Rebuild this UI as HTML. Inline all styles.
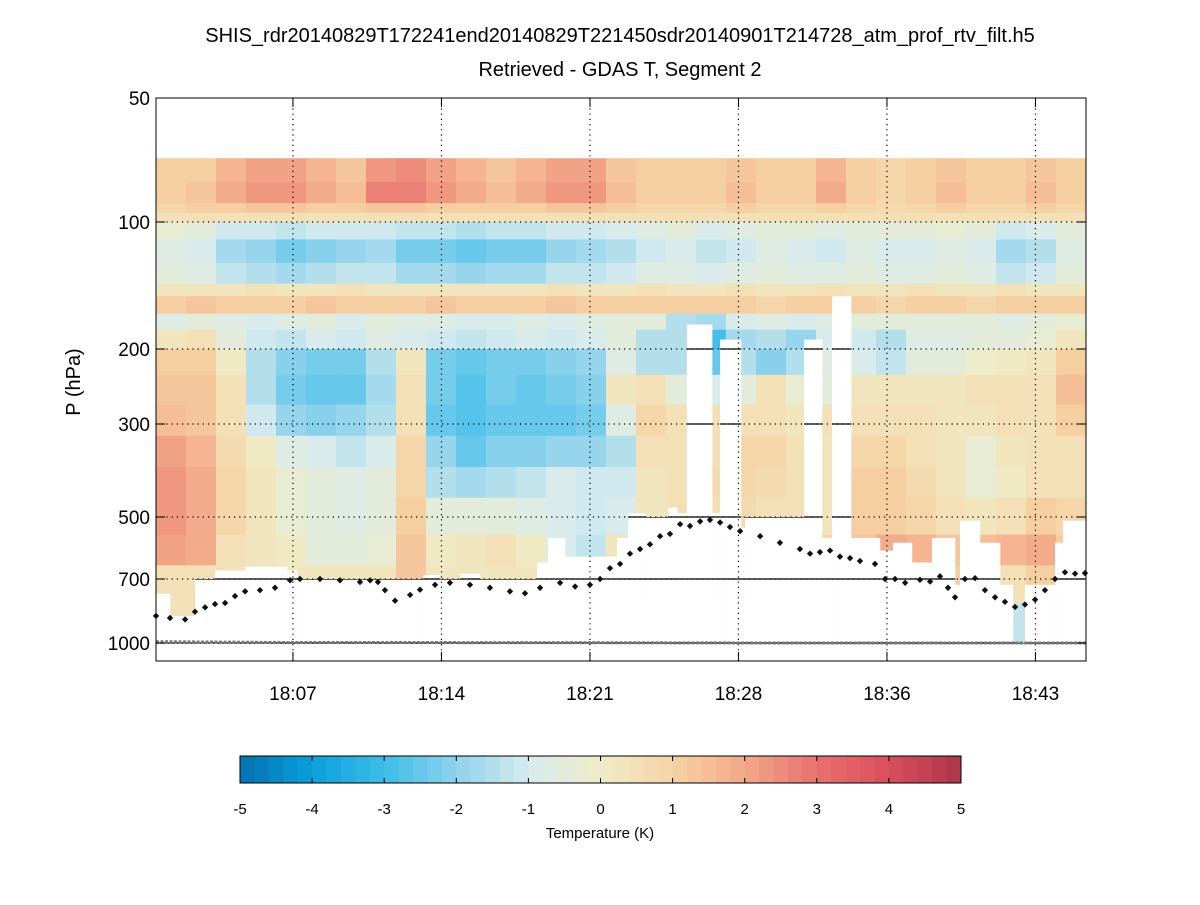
<!DOCTYPE html>
<html><head><meta charset="utf-8"><style>
body{margin:0;background:#fff;}
svg text{font-family:"Liberation Sans",sans-serif;fill:#000;}
</style></head><body>
<svg id="chart" width="1200" height="900" xmlns="http://www.w3.org/2000/svg">
<text x="620" y="42" font-size="20" text-anchor="middle">SHIS_rdr20140829T172241end20140829T221450sdr20140901T214728_atm_prof_rtv_filt.h5</text>
<text x="620" y="76" font-size="20" text-anchor="middle">Retrieved - GDAS T, Segment 2</text>
<text transform="translate(80,382) rotate(-90)" font-size="20" text-anchor="middle">P (hPa)</text>
<g id="heat"></g>
<g id="mask"></g>
<g id="grid"></g>
<g id="series"></g>
<g id="axes"></g>
<g id="cbar"></g>
</svg>
<script>
// ---- data ----
const xTicks=[7.2,14.4,21.6,28.8,36.0,43.2];
const xTickLabels=["18:07","18:14","18:21","18:28","18:36","18:43"];
const yTicks=[50,100,200,300,500,700,1000];
const yTickLabels=["50","100","200","300","500","700","1000"];
const rowEdges=[70,80,90,95,100,110,125,140,150,165,180,200,230,270,320,380,450,550,650,800,1000];
const nCols=31;
const tempDiff=[
[1.1,1.2,1.6,2.1,2.1,1.6,1.4,2.3,2.5,2.0,1.6,1.4,1.6,2.1,2.1,1.4,1.1,1.0,1.1,1.4,1.0,1.1,1.6,1.0,0.8,1.0,1.4,1.0,1.1,1.4,1.1],
[1.2,1.4,1.8,2.4,2.2,1.8,1.5,2.6,2.7,2.2,1.8,1.5,1.8,2.4,2.2,1.5,1.2,1.0,1.2,1.5,1.0,1.2,1.8,1.0,0.9,1.0,1.5,1.0,1.2,1.5,1.2],
[0.9,1.0,1.1,1.3,1.3,1.1,1.0,1.3,1.4,1.2,1.1,1.0,1.1,1.3,1.3,1.0,0.9,0.8,0.9,1.0,0.8,0.9,1.1,0.8,0.7,0.8,1.0,0.8,0.9,1.0,0.9],
[0.4,0.4,0.4,0.4,0.4,0.4,0.4,0.4,0.4,0.4,0.4,0.4,0.4,0.4,0.4,0.4,0.4,0.4,0.4,0.4,0.4,0.4,0.4,0.4,0.4,0.4,0.4,0.4,0.4,0.4,0.4],
[-0.3,-0.5,-1.1,-1.2,-1.4,-1.2,-1.2,-1.1,-1.4,-1.4,-1.5,-1.4,-1.4,-1.1,-1.1,-1.0,-0.7,-0.6,-0.9,-0.7,-0.5,-0.6,-0.7,-0.5,-0.6,-0.6,-0.4,-0.6,-1.1,-1.0,-0.5],
[-0.8,-1.0,-1.8,-2.0,-2.3,-2.1,-2.0,-1.8,-2.3,-2.3,-2.6,-2.3,-2.3,-1.9,-1.8,-1.6,-1.1,-1.0,-1.4,-1.1,-0.8,-1.0,-1.1,-0.8,-1.0,-1.0,-0.7,-1.0,-1.8,-1.6,-0.8],
[-0.5,-0.7,-1.3,-1.5,-1.7,-1.5,-1.4,-1.3,-1.7,-1.7,-1.9,-1.7,-1.7,-1.4,-1.3,-1.1,-0.8,-0.7,-1.0,-0.8,-0.5,-0.7,-0.8,-0.5,-0.7,-0.7,-0.5,-0.7,-1.3,-1.1,-0.5],
[0.3,0.2,0.3,0.4,0.3,0.3,0.4,0.3,0.3,0.3,0.2,0.3,0.3,0.4,0.3,0.3,0.4,0.3,0.3,0.4,0.3,0.3,0.4,0.3,0.3,0.4,0.3,0.3,0.4,0.3,0.3],
[1.2,1.3,1.2,1.1,1.2,1.3,1.2,1.1,1.2,1.3,1.2,1.1,1.2,1.3,1.2,1.1,1.0,1.0,1.2,1.1,0.9,1.0,1.2,1.1,0.9,1.0,1.1,0.9,1.0,1.1,1.2],
[-0.8,-0.6,-0.8,-1.0,-0.8,-0.6,-0.9,-0.5,-0.7,-0.8,-1.0,-0.9,-0.7,-1.0,-0.8,-0.5,-0.6,-1.5,-1.8,-0.9,-0.8,-0.9,-0.7,-0.6,-0.6,-0.5,-0.6,-0.5,-0.8,-0.5,-0.3],
[0.3,0.5,-0.5,-1.2,-1.3,-1.0,-1.2,-0.8,-1.0,-1.2,-1.4,-1.2,-1.0,-1.2,-1.0,-0.5,-1.5,-1.5,-3.0,-1.8,-1.5,-2.0,-1.0,-1.2,-1.5,-0.8,-0.7,-0.5,-0.6,-0.3,0.2],
[1.0,1.2,0.0,-1.5,-2.2,-2.3,-2.4,-1.5,0.3,-2.3,-2.6,-2.3,-2.4,-2.2,-2.0,-0.7,-1.5,-1.5,-2.5,-1.5,-2.2,-1.5,-0.8,-1.0,-1.3,-0.5,-0.5,-0.2,0.0,0.3,1.2],
[1.3,1.3,0.5,-1.5,-2.3,-2.5,-2.5,-1.8,0.5,-2.4,-2.7,-2.4,-2.5,-2.4,-2.2,0.3,0.5,-0.5,-1.0,-0.5,0.5,-0.3,-0.5,0.3,0.2,0.3,0.3,0.5,0.5,0.5,1.5],
[1.5,1.4,0.6,-1.2,-2.0,-2.2,-2.0,-1.5,0.6,-2.5,-2.8,-2.5,-2.5,-2.6,-2.3,-0.8,0.8,0.4,0.5,0.5,0.6,0.3,0.4,0.5,0.5,0.5,0.2,0.3,0.4,0.6,1.0],
[2.0,1.6,0.7,0.0,-0.8,-1.0,-1.3,-1.0,0.8,-2.0,-2.5,-2.2,-2.2,-2.0,-2.0,-1.5,0.4,0.5,0.6,0.8,0.8,0.5,0.3,0.8,0.8,0.6,0.2,-0.3,0.2,0.5,0.6],
[2.2,1.8,0.8,0.2,-0.3,-0.5,-0.8,-0.6,0.9,-1.5,-1.8,-1.5,-1.3,-1.0,-1.2,-1.2,0.3,0.5,0.7,0.9,0.7,0.5,0.3,1.0,1.0,0.7,0.3,-0.3,0.1,0.6,0.6],
[2.2,1.8,0.8,0.2,-0.3,-0.6,-0.8,-0.5,1.0,-0.5,-0.6,-0.5,-0.8,-1.0,-1.2,-1.0,0.3,0.5,0.6,0.7,0.6,0.6,0.3,1.0,1.2,0.8,0.4,0.3,0.6,1.2,0.8],
[2.0,1.8,0.6,0.3,0.0,-0.5,-0.6,-0.3,1.3,0.0,0.3,0.5,0.0,-1.0,-1.3,0.3,0.5,0.5,0.5,0.5,0.5,0.5,0.8,1.3,1.8,1.6,1.3,1.5,1.6,1.8,1.0],
[0.5,0.5,0.6,0.3,0.2,0.3,0.3,0.3,1.3,0.3,0.3,0.3,0.3,0.0,0.0,0.5,0.5,0.5,0.5,0.5,0.5,0.5,0.8,1.2,1.8,1.6,1.0,1.0,0.5,1.0,1.0],
[0.5,0.5,0.3,0.3,0.3,0.3,0.3,0.3,0.3,0.3,0.3,0.3,0.3,0.3,0.3,0.3,0.3,0.3,0.3,0.3,0.3,0.3,0.3,0.3,0.3,0.3,0.3,0.3,-1.3,0.5,0.5]
];
// no-data mask: segment start times (min) and lowest valid pressure
const maskStart=[0.56,1.24,2.45,3.42,4.88,6.91,7.40,13.51,14.33,15.30,16.27,19.03,19.57,20.39,22.91,23.45,24.32,25.38,25.82,26.30,27.52,27.91,28.92,29.12,31.98,32.85,33.34,34.26,35.66,36.29,37.21,38.18,39.30,39.54,40.51,41.48,42.11,42.69,44.15,44.54];
const maskBottom=[760,860,700,668,655,668,700,685,700,680,700,640,560,620,560,490,500,475,490,175,490,190,530,500,190,560,150,560,600,575,640,560,723,510,575,723,1000,723,575,510];
const cloudTimes=[0.56,1.24,1.97,2.45,2.94,3.42,3.91,4.39,4.88,5.60,6.33,7.06,7.54,8.51,9.48,10.45,10.94,11.32,11.66,12.15,12.88,13.36,14.09,14.81,15.78,16.75,17.72,18.45,19.18,20.15,20.88,21.60,22.09,22.57,23.06,23.54,24.03,24.51,25.00,25.48,25.97,26.45,26.94,27.42,27.91,28.39,28.88,29.85,30.81,31.78,32.27,32.75,33.24,33.72,34.21,34.69,35.42,35.91,36.39,36.88,37.60,38.09,38.57,38.96,39.30,39.78,40.27,40.75,41.24,41.72,42.21,42.69,43.18,43.66,44.15,44.63,45.12,45.60];
const cloudP=[860,870,877,840,820,805,800,770,750,745,735,705,700,700,705,712,705,712,745,790,765,743,723,715,723,735,750,758,735,715,730,723,700,660,645,610,595,580,555,548,520,525,512,508,515,528,540,555,575,595,610,605,600,620,625,635,645,700,700,715,703,710,690,735,775,700,697,745,775,795,818,807,785,745,700,675,680,678];
const surfTimes=[0.56,7.0,20.0,30.0,45.65];
const surfP=[993,997,998,1000,1000];
const cbTicks=[-5,-4,-3,-2,-1,0,1,2,3,4,5];
const cmapStops=[[-5,"#0570b0"],[-4,"#0aa0dc"],[-3,"#3cbde9"],[-2,"#8fd3ec"],[-1,"#d6ebee"],[0,"#efedc8"],[1,"#f6d3a4"],[2,"#f3a888"],[3,"#e8706e"],[4,"#d94f5c"],[5,"#ac3449"]];

// ---- scales ----
const X0=156,X1=1086,Y0=98,Y1=661,T0=0.56,T1=45.65;
function xs(t){return X0+(t-T0)/(T1-T0)*(X1-X0);}
const yAnchorP=[50,100,200,300,500,700,1000,1100];
const yAnchorY=[98,222,349,424,517,579,643,661];
function ys(p){
  const l=Math.log10(p);
  for(let i=0;i<yAnchorP.length-1;i++){
    const a=Math.log10(yAnchorP[i]),b=Math.log10(yAnchorP[i+1]);
    if(l<=b||i==yAnchorP.length-2){return yAnchorY[i]+(l-a)/(b-a)*(yAnchorY[i+1]-yAnchorY[i]);}
  }
}
function hex(c){return [parseInt(c.slice(1,3),16),parseInt(c.slice(3,5),16),parseInt(c.slice(5,7),16)];}
function cmap(v){
  v=Math.max(-5,Math.min(4.99,v));
  v=Math.floor(v/0.2)*0.2+0.1;
  for(let i=0;i<cmapStops.length-1;i++){
    if(v<=cmapStops[i+1][0]){
      const f=(v-cmapStops[i][0]);const a=hex(cmapStops[i][1]),b=hex(cmapStops[i+1][1]);
      return "rgb("+a.map((x,k)=>Math.round(x+(b[k]-x)*f)).join(",")+")";
    }
  }
  return cmapStops[cmapStops.length-1][1];
}
const NS="http://www.w3.org/2000/svg";
function mk(tag,attrs,parent){const e=document.createElementNS(NS,tag);for(const k in attrs)e.setAttribute(k,attrs[k]);parent.appendChild(e);return e;}

// ---- heatmap ----
const heat=document.getElementById('heat');
const colW=(T1-T0)/nCols;
for(let r=0;r<tempDiff.length;r++){
  for(let c=0;c<nCols;c++){
    const xa=xs(T0+c*colW),xb=xs(T0+(c+1)*colW);
    const ya=ys(rowEdges[r]),yb=ys(rowEdges[r+1]);
    const e=mk('rect',{x:xa.toFixed(2),y:ya.toFixed(2),width:(xb-xa+0.5).toFixed(2),height:(yb-ya+0.5).toFixed(2),fill:cmap(tempDiff[r][c])},heat);
    
    
  }
}
// ---- mask ----
const mask=document.getElementById('mask');
const defs=mk('defs',{},document.getElementById('chart'));
const clip=mk('clipPath',{id:'maskclip'},defs);
for(let i=0;i<maskStart.length;i++){
  const ta=maskStart[i],tb=(i+1<maskStart.length)?maskStart[i+1]:T1;
  const xa=xs(ta),xb=xs(tb),ya=ys(maskBottom[i]);
  const e=mk('rect',{x:xa.toFixed(2),y:ya.toFixed(2),width:(xb-xa+0.3).toFixed(2),height:(Y1-ya).toFixed(2),fill:'#fff'},mask);
  
  
  mk('rect',{x:xa.toFixed(2),y:ya.toFixed(2),width:(xb-xa+0.3).toFixed(2),height:(Y1-ya).toFixed(2)},clip);
}
// ---- grid ----
const grid=document.getElementById('grid');
for(let i=0;i<xTicks.length;i++){
  const x=xs(xTicks[i]);
  const e=mk('line',{x1:x,x2:x,y1:Y0,y2:Y1,stroke:'#000','stroke-width':1.2,'stroke-dasharray':'1.2 4'},grid);
  
  
}
for(let i=1;i<yTicks.length;i++){
  const y=ys(yTicks[i]);
  const e=mk('line',{x1:X0,x2:X1,y1:y,y2:y,stroke:'#000','stroke-width':1.2,'stroke-dasharray':'1.2 4'},grid);
  
  
  const s=mk('line',{x1:X0,x2:X1,y1:y,y2:y,stroke:'#000','stroke-width':1.2,'clip-path':'url(#maskclip)'},grid);
  
  
}
// ---- series ----
const series=document.getElementById('series');
{
  let d="";
  for(let i=0;i<surfTimes.length;i++)d+=(i?"L":"M")+xs(surfTimes[i]).toFixed(1)+" "+ys(surfP[i]).toFixed(1);
  const e=mk('path',{d:d,fill:'none',stroke:'#777','stroke-width':3,'stroke-dasharray':'3 1.5'},series);
  
  
}
for(let i=0;i<cloudTimes.length;i++){
  const x=xs(cloudTimes[i]),y=ys(cloudP[i]);
  const e=mk('path',{d:`M${x-3.2} ${y}L${x} ${y-3.2}L${x+3.2} ${y}L${x} ${y+3.2}Z`,fill:'#111'},series);
  
  
}
// ---- axes ----
const axes=document.getElementById('axes');
{
  const e=mk('rect',{x:X0,y:Y0,width:X1-X0,height:Y1-Y0,fill:'none',stroke:'#000','stroke-width':1},axes);
  
  
}
for(let i=0;i<xTicks.length;i++){
  const x=xs(xTicks[i]);
  mk('line',{x1:x,x2:x,y1:Y1,y2:Y1-9,stroke:'#000'},axes);
  mk('line',{x1:x,x2:x,y1:Y0,y2:Y0+9,stroke:'#000'},axes);
  const t=mk('text',{x:x,y:700,'font-size':19,'text-anchor':'middle'},axes);
  t.textContent=xTickLabels[i];
  
  
}
for(let i=0;i<yTicks.length;i++){
  const y=ys(yTicks[i]);
  mk('line',{x1:X0,x2:X0+9,y1:y,y2:y,stroke:'#000'},axes);
  mk('line',{x1:X1,x2:X1-9,y1:y,y2:y,stroke:'#000'},axes);
  const t=mk('text',{x:150,y:y+7,'font-size':19,'text-anchor':'end'},axes);
  t.textContent=yTickLabels[i];
  
  
}
// ---- colorbar ----
const cb=document.getElementById('cbar');
const CB0=240,CB1=961,CBY=756,CBH=27;
function cbx(v){return CB0+(v+5)/10*(CB1-CB0);}
for(let k=0;k<50;k++){
  const v=-5+k*0.2;
  const e=mk('rect',{x:cbx(v).toFixed(2),y:CBY,width:((CB1-CB0)/50+0.4).toFixed(2),height:CBH,fill:cmap(v+0.1)},cb);
  
  
}
mk('rect',{x:CB0,y:CBY,width:CB1-CB0,height:CBH,fill:'none',stroke:'#000'},cb);
for(let i=0;i<cbTicks.length;i++){
  const x=cbx(cbTicks[i]);
  mk('line',{x1:x,x2:x,y1:CBY,y2:CBY+5,stroke:'#000'},cb);
  mk('line',{x1:x,x2:x,y1:CBY+CBH,y2:CBY+CBH-5,stroke:'#000'},cb);
  const t=mk('text',{x:x,y:814,'font-size':15,'text-anchor':'middle'},cb);
  t.textContent=String(cbTicks[i]);
  
  
}
{
  const t=mk('text',{x:600,y:838,'font-size':15,'text-anchor':'middle'},cb);
  t.textContent="Temperature (K)";
  
  
}
</script>
</body></html>
